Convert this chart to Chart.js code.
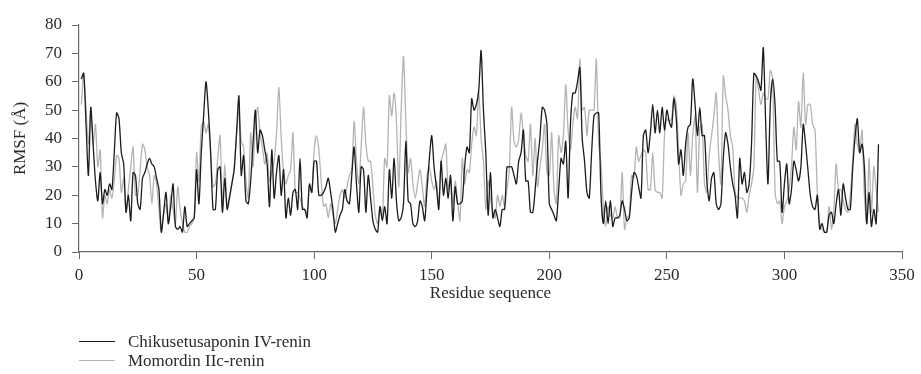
<!DOCTYPE html>
<html>
<head>
<meta charset="utf-8">
<script src="https://cdn.jsdelivr.net/npm/chart.js@4.4.1/dist/chart.umd.min.js"></script>
<style>
  html, body { margin: 0; padding: 0; background: #fff; }
  #wrap { position: relative; width: 921px; height: 374px; }
  #legend { position: absolute; left: 79px; top: 332px; font-family: "Liberation Serif", serif; font-size: 17px; color: #2a2a2a; }
  #legend div { height: 19px; line-height: 19px; display: flex; align-items: center; }
  #legend span.ln { display: inline-block; width: 36px; height: 0; border-top: 1.5px solid; margin-right: 13px; }
</style>
</head>
<body>
<div id="wrap">
  <canvas id="lineChart" width="921" height="374"></canvas>
  <div id="legend"></div>
</div>
<script>
(function () {
    const seriesNames = ["Chikusetusaponin IV-renin", "Momordin IIc-renin"];
    const xTicks = [0, 50, 100, 150, 200, 250, 300, 350];
    const yTicks = [0, 10, 20, 30, 40, 50, 60, 70, 80];

    // RMSF per residue, 1..340
    const chikusetusaponin = [
        61, 63, 45, 27, 51, 38, 25, 18, 28, 17,
        22, 20, 24, 22, 35, 49, 47, 35, 31, 14,
        20, 11, 28, 27, 17, 15, 26, 28, 31, 33,
        31, 30, 26, 22, 7, 14, 21, 10, 16, 24,
        9, 8, 9, 7, 16, 9, 10, 11, 12, 29,
        17, 35, 48, 60, 50, 35, 15, 15, 29, 30,
        14, 26, 15, 19, 24, 29, 42, 55, 27, 34,
        18, 17, 25, 38, 50, 35, 43, 41, 36, 31,
        16, 36, 19, 28, 34, 20, 29, 12, 19, 13,
        21, 22, 15, 33, 15, 15, 12, 24, 21, 32,
        32, 20, 20, 21, 23, 26, 21, 15, 7, 10,
        13, 15, 22, 18, 17, 27, 37, 24, 14, 30,
        29, 14, 27, 19, 11, 8, 7, 16, 11, 16,
        10, 29, 19, 33, 18, 11, 12, 17, 39, 18,
        17, 10, 9, 11, 18, 16, 11, 22, 33, 41,
        30, 23, 15, 32, 20, 26, 19, 27, 11, 23,
        17, 17, 18, 30, 37, 35, 54, 50, 52, 57,
        71, 50, 35, 13, 28, 12, 15, 12, 9, 15,
        15, 30, 30, 30, 27, 24, 32, 35, 43, 25,
        25, 14, 14, 22, 32, 40, 51, 50, 45, 17,
        15, 13, 11, 22, 33, 31, 39, 19, 45, 56,
        56, 60, 65, 40, 32, 21, 19, 35, 48, 49,
        49, 20, 10, 18, 10, 18, 9, 12, 12, 13,
        18, 15, 11, 12, 21, 28, 27, 23, 19, 41,
        43, 35, 42, 52, 42, 50, 42, 51, 43, 50,
        46, 44, 54, 47, 31, 36, 27, 38, 44, 45,
        61, 52, 41, 51, 41, 41, 25, 18, 26, 28,
        17, 15, 17, 33, 42, 38, 30, 24, 20, 12,
        33, 24, 28, 21, 24, 38, 63, 62, 60, 57,
        72, 46, 24, 52, 61, 52, 32, 32, 14, 24,
        31, 17, 22, 32, 29, 25, 30, 45, 38, 29,
        20, 16, 15, 20, 8, 10, 7, 7, 13, 14,
        10, 17, 22, 13, 24, 19, 15, 15, 29, 40,
        47, 35, 38, 30, 10, 21, 9, 15, 10, 38
    ];
    const momordin = [
        52, 63, 50, 38, 50, 38, 45, 30, 36, 12,
        20, 17, 22, 19, 25, 34, 33, 21, 26, 14,
        22, 30, 37, 20, 20, 29, 38, 36, 30, 27,
        17, 27, 24, 15, 7, 13, 17, 10, 20, 15,
        10, 23, 15, 10, 7, 7, 9, 10, 12, 35,
        25, 44, 46, 42, 45, 34, 23, 24, 33, 41,
        16, 31, 16, 20, 24, 30, 41, 50, 39, 37,
        25, 19, 42, 30, 45, 51, 42, 37, 31, 35,
        25, 28, 32, 42, 58, 40, 28, 24, 27, 29,
        42, 21, 21, 19, 16, 15, 14, 23, 21, 36,
        41, 36, 25, 16, 17, 12, 17, 13, 10, 15,
        20, 22, 19, 23, 27, 29, 46, 32, 24, 37,
        51, 38, 32, 32, 23, 13, 10, 16, 12, 33,
        30, 55, 48, 56, 46, 23, 50, 69, 46, 28,
        33, 24, 19, 24, 29, 23, 16, 27, 30, 25,
        22, 25, 17, 32, 35, 38, 22, 26, 17, 25,
        18, 11, 33, 24, 29, 28, 38, 44, 41, 57,
        40, 32, 15, 25, 19, 14, 12, 20, 16, 20,
        16, 22, 29, 51, 39, 37, 40, 49, 41, 34,
        32, 45, 27, 40, 23, 30, 36, 45, 28, 27,
        42, 22, 17, 41, 35, 41, 59, 43, 36, 45,
        51, 47, 68, 50, 51, 41, 50, 50, 50, 68,
        38, 31, 16, 9, 16, 13, 12, 16, 12, 12,
        28, 8, 12, 13, 27, 26, 37, 32, 34, 36,
        35, 22, 22, 35, 22, 21, 21, 19, 41, 47,
        46, 47, 55, 52, 36, 20, 24, 25, 42, 27,
        41, 48, 21, 44, 45, 24, 21, 34, 41, 48,
        56, 35, 24, 62, 55, 50, 41, 37, 21, 19,
        19, 19, 18, 14, 20, 24, 30, 62, 57, 52,
        56, 54, 54, 64, 61, 22, 17, 18, 10, 16,
        18, 22, 30, 44, 36, 53, 44, 63, 45, 52,
        52, 45, 43, 21, 10, 8, 7, 7, 16, 8,
        15, 31, 22, 22, 18, 15, 14, 20, 32, 45,
        38, 35, 43, 20, 10, 33, 14, 30, 22, 14
    ];
    const residues = chikusetusaponin.map((v, i) => i + 1);

    const lineColors = ['#1c1c1c', '#b4b4b4'];
    const toPoints = (vals) => vals.map((v, i) => ({ x: residues[i], y: v }));

    const axisColor = '#6a6a6a';
    const textFont = { family: '"Liberation Serif", serif', size: 17 };

    const myChart = new Chart(document.getElementById('lineChart'), {
        type: 'line',
        data: {
            datasets: [{
                label: seriesNames[0],
                data: toPoints(chikusetusaponin),
                borderColor: lineColors[0],
                borderWidth: 1.3,
                pointRadius: 0,
                tension: 0.25,
                order: 0
            }, {
                label: seriesNames[1],
                data: toPoints(momordin),
                borderColor: lineColors[1],
                borderWidth: 1.3,
                pointRadius: 0,
                tension: 0.25,
                order: 1
            }]
        },
        options: {
            responsive: false,
            animation: false,
            layout: { padding: { top: 25, right: 19, left: 0, bottom: 70 } },
            scales: {
                x: {
                    type: 'linear',
                    min: 0,
                    max: 350,
                    afterBuildTicks: (s) => { s.ticks = xTicks.map(v => ({ value: v })); },
                    afterFit: (s) => { s.height = 52; },
                    grid: { drawOnChartArea: false, color: axisColor, tickLength: 7 },
                    border: { color: axisColor, width: 1.2 },
                    ticks: { color: '#2a2a2a', font: textFont, padding: 6, maxRotation: 0 },
                    title: { display: true, text: 'Residue sequence', color: '#2a2a2a', font: textFont, padding: { top: 0, bottom: 0 } }
                },
                y: {
                    min: 0,
                    max: 80,
                    afterBuildTicks: (s) => { s.ticks = yTicks.map(v => ({ value: v })); },
                    afterFit: (s) => { s.width = 79; },
                    grid: { drawOnChartArea: false, color: axisColor, tickLength: 7 },
                    border: { color: axisColor, width: 1.2 },
                    ticks: { color: '#2a2a2a', font: textFont, padding: 10 },
                    title: { display: true, text: 'RMSF (Å)', color: '#2a2a2a', font: textFont, padding: { top: 10, bottom: 0 } }
                }
            },
            plugins: {
                legend: { display: false },
                tooltip: { enabled: false }
            }
        }
    });

    // legend below the chart, one entry per row
    const legend = document.getElementById('legend');
    seriesNames.forEach((name, i) => {
        const row = document.createElement('div');
        row.innerHTML = '<span class="ln" style="border-color:' + lineColors[i] + '"></span>' + name;
        legend.appendChild(row);
    });
})();
</script>
</body>
</html>
